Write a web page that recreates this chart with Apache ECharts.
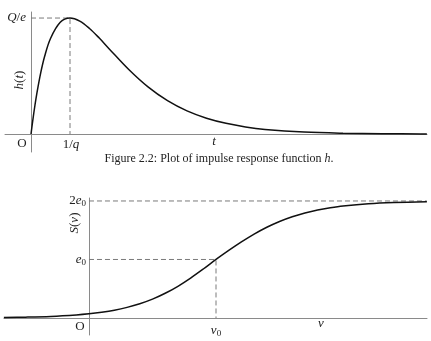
<!DOCTYPE html>
<html>
<head>
<meta charset="utf-8">
<script src="https://cdn.jsdelivr.net/npm/echarts@6/dist/echarts.min.js"></script>
<style>
html,body{margin:0;padding:0;background:#fff;}
#c{width:431px;height:341px;}
</style>
</head>
<body>
<div id="c"></div>
<script>
// Top plot: impulse response h(t); t in units of 1/q, h in units of Q/e
var tTop = [0, 0.05, 0.1, 0.15, 0.25, 0.35, 0.5, 0.75, 1, 1.25, 1.5, 1.75, 2, 2.5, 3, 3.5, 4, 4.5, 5, 5.5, 6, 7, 8, 9, 10, 10.15];
var hTop = [0, 0.129, 0.246, 0.351, 0.529, 0.670, 0.824, 0.963, 1, 0.974, 0.910, 0.827, 0.736, 0.558, 0.406, 0.287, 0.199, 0.136, 0.092, 0.061, 0.040, 0.017, 0.007, 0.003, 0.001, 0.001];
var topGuide = [[0, 1], [1, 1], [1, 0]];

// Bottom plot: sigmoid S(v); v in units of v0, S in units of e0
var vBot = [-0.67, -0.5, -0.3, -0.1, 0, 0.1, 0.2, 0.3, 0.4, 0.5, 0.6, 0.7, 0.8, 0.9, 1.0, 1.1, 1.2, 1.3, 1.4, 1.5, 1.6, 1.7, 1.8, 1.9, 2.0, 2.2, 2.4, 2.66];
var sBot = [0.008, 0.014, 0.027, 0.052, 0.071, 0.098, 0.133, 0.181, 0.243, 0.322, 0.422, 0.542, 0.682, 0.837, 1.0, 1.154, 1.300, 1.434, 1.551, 1.650, 1.731, 1.795, 1.846, 1.884, 1.914, 1.953, 1.974, 1.988];
var botGuideTop = [[0, 2], [2.66, 2]];
var botGuideMid = [[0, 1], [1, 1], [1, 0]];

function zip(a, b) { return a.map(function (x, i) { return [x, b[i]]; }); }

var serif = 'Liberation Serif';
var axisCol = '#8a8a8a';
var dashCol = '#7a7a7a';
var rich = {
  r: {fontFamily: serif, fontSize: 13, color: '#222'},
  i: {fontFamily: serif, fontSize: 13, fontStyle: 'italic', color: '#222'},
  s: {fontFamily: serif, fontSize: 9, color: '#222', verticalAlign: 'bottom', padding: [6, 0, 0, 0]},
  c: {fontFamily: serif, fontSize: 12, color: '#222'},
  ci: {fontFamily: serif, fontSize: 12, fontStyle: 'italic', color: '#222'}
};
function txt(x, y, text, align, rot) {
  return {
    type: 'text', x: x, y: y, rotation: rot || 0, silent: true,
    style: {text: text, rich: rich, align: align || 'center', verticalAlign: 'middle', fill: '#222'}
  };
}

var chart = echarts.init(document.getElementById('c'), null, {renderer: 'canvas'});
var axisBase = {
  type: 'value', splitLine: {show: false}, axisTick: {show: false}, axisLabel: {show: false},
  axisLine: {show: true, onZero: true, lineStyle: {color: axisCol, width: 1}}
};
function ax(gi, min, max) { return Object.assign({}, axisBase, {gridIndex: gi, min: min, max: max}); }

chart.setOption({
  animation: false,
  grid: [
    {left: 5, right: 4, top: 12, bottom: 189},
    {left: 4, right: 4, top: 198, bottom: 6}
  ],
  xAxis: [ax(0, -0.667, 10.154), ax(1, -0.669, 2.661)],
  yAxis: [ax(0, -0.155, 1.052), ax(1, -0.291, 2.051)],
  series: [
    {type: 'line', xAxisIndex: 0, yAxisIndex: 0, data: zip(tTop, hTop), smooth: 0.35, symbol: 'none', silent: true,
     lineStyle: {color: '#111', width: 1.5}, z: 3},
    {type: 'line', xAxisIndex: 0, yAxisIndex: 0, data: topGuide, symbol: 'none', silent: true,
     lineStyle: {color: dashCol, width: 1, type: [5, 3]}, z: 2},
    {type: 'line', xAxisIndex: 1, yAxisIndex: 1, data: zip(vBot, sBot), smooth: 0.35, symbol: 'none', silent: true,
     lineStyle: {color: '#111', width: 1.5}, z: 3},
    {type: 'line', xAxisIndex: 1, yAxisIndex: 1, data: botGuideTop, symbol: 'none', silent: true,
     lineStyle: {color: dashCol, width: 1, type: [5, 3]}, z: 2},
    {type: 'line', xAxisIndex: 1, yAxisIndex: 1, data: botGuideMid, symbol: 'none', silent: true,
     lineStyle: {color: dashCol, width: 1, type: [5, 3]}, z: 2}
  ],
  graphic: [
    txt(26, 18, '{i|Q}{r|/}{i|e}', 'right'),
    txt(20, 80, '{i|h}{r|(}{i|t}{r|)}', 'center', Math.PI / 2),
    txt(22, 144, '{r|O}'),
    txt(71, 145, '{r|1/}{i|q}'),
    txt(214, 142, '{i|t}'),
    txt(219, 159, '{c|Figure 2.2: Plot of impulse response function }{ci|h}{c|.}'),
    txt(86, 201, '{r|2}{i|e}{s|0}', 'right'),
    txt(75, 223, '{i|S}{r|(}{i|v}{r|)}', 'center', Math.PI / 2),
    txt(86, 260, '{i|e}{s|0}', 'right'),
    txt(80, 327, '{r|O}'),
    txt(216, 331, '{i|v}{s|0}'),
    txt(321, 324, '{i|v}')
  ]
});
</script>
</body>
</html>
